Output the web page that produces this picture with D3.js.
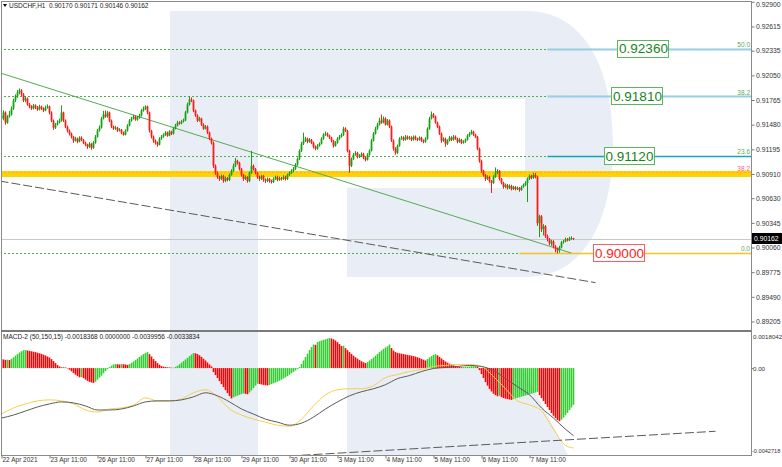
<!DOCTYPE html>
<html><head><meta charset="utf-8">
<script src="https://cdn.jsdelivr.net/npm/d3@7"></script>
<style>
body{margin:0;background:#fff}
svg{display:block}
text{font-family:"Liberation Sans",Arial,sans-serif}
</style></head>
<body><svg id="c" width="782" height="467"></svg>
<script>
// ---------------- DATA ----------------
const symbolTitle = "USDCHF,H1  0.90170 0.90171 0.90146 0.90162";
const macdTitle = "MACD-2 (50,150,15) -0.0018368 0.0000000 -0.0039956 -0.0033834";

const closes = [
0.91551,0.91621,0.91504,0.91574,0.91597,0.91667,0.91760,0.91807,0.91853,0.91876,
0.91830,0.91760,0.91783,0.91713,0.91690,0.91667,0.91702,0.91679,0.91655,0.91690,
0.91667,0.91644,0.91679,0.91690,0.91621,0.91527,0.91446,0.91481,0.91504,0.91527,
0.91621,0.91527,0.91458,0.91411,0.91376,0.91341,0.91295,0.91318,0.91283,0.91330,
0.91306,0.91271,0.91248,0.91225,0.91260,0.91213,0.91271,0.91341,0.91411,0.91446,
0.91551,0.91597,0.91574,0.91621,0.91527,0.91458,0.91434,0.91446,0.91411,0.91423,
0.91388,0.91364,0.91411,0.91469,0.91527,0.91551,0.91574,0.91539,0.91562,0.91586,
0.91644,0.91667,0.91690,0.91621,0.91411,0.91341,0.91295,0.91271,0.91248,0.91318,
0.91341,0.91364,0.91388,0.91353,0.91399,0.91376,0.91434,0.91469,0.91504,0.91493,
0.91516,0.91527,0.91621,0.91713,0.91772,0.91760,0.91644,0.91586,0.91527,0.91551,
0.91481,0.91434,0.91458,0.91388,0.91318,0.91271,0.91004,0.90923,0.90876,0.90853,
0.90888,0.90829,0.90864,0.90841,0.90899,0.90946,0.91004,0.91062,0.91039,0.90969,
0.90899,0.90853,0.90876,0.90829,0.90923,0.91004,0.90969,0.90923,0.90876,0.90853,
0.90888,0.90841,0.90829,0.90853,0.90829,0.90818,0.90853,0.90876,0.90841,0.90864,
0.90853,0.90876,0.90853,0.90899,0.90923,0.90946,0.90969,0.91016,0.91085,0.91178,
0.91260,0.91295,0.91318,0.91283,0.91306,0.91271,0.91225,0.91202,0.91236,0.91260,
0.91318,0.91364,0.91376,0.91353,0.91330,0.91295,0.91236,0.91271,0.91318,0.91341,
0.91364,0.91434,0.91411,0.91178,0.91004,0.91085,0.91132,0.91155,0.91109,0.91120,
0.91143,0.91097,0.91074,0.91132,0.91178,0.91295,0.91376,0.91434,0.91481,0.91527,
0.91504,0.91551,0.91481,0.91527,0.91458,0.91295,0.91202,0.91155,0.91236,0.91318,
0.91330,0.91306,0.91341,0.91318,0.91330,0.91306,0.91341,0.91318,0.91306,0.91330,
0.91295,0.91283,0.91318,0.91434,0.91551,0.91597,0.91574,0.91504,0.91458,0.91376,
0.91295,0.91318,0.91260,0.91295,0.91330,0.91306,0.91341,0.91318,0.91283,0.91306,
0.91271,0.91283,0.91306,0.91353,0.91376,0.91399,0.91364,0.91341,0.91202,0.91062,
0.90946,0.90899,0.90853,0.90876,0.90829,0.90806,0.90876,0.90923,0.90946,0.90853,
0.90806,0.90760,0.90783,0.90748,0.90771,0.90736,0.90760,0.90736,0.90748,0.90725,
0.90760,0.90783,0.90806,0.90853,0.90888,0.90864,0.90899,0.90876,0.90341,0.90422,
0.90271,0.90306,0.90190,0.90155,0.90108,0.90131,0.90073,0.90050,0.90027,0.90062,
0.90120,0.90131,0.90155,0.90143,0.90166,0.90170,0.90162];

const opens = [0.91580,
0.91551,0.91621,0.91504,0.91574,0.91597,0.91667,0.91760,0.91807,0.91853,0.91876,
0.91830,0.91760,0.91783,0.91713,0.91690,0.91667,0.91702,0.91679,0.91655,0.91690,
0.91667,0.91644,0.91679,0.91690,0.91621,0.91527,0.91446,0.91481,0.91504,0.91527,
0.91621,0.91527,0.91458,0.91411,0.91376,0.91341,0.91295,0.91318,0.91283,0.91330,
0.91306,0.91271,0.91248,0.91225,0.91260,0.91213,0.91271,0.91341,0.91411,0.91446,
0.91551,0.91597,0.91574,0.91621,0.91527,0.91458,0.91434,0.91446,0.91411,0.91423,
0.91388,0.91364,0.91411,0.91469,0.91527,0.91551,0.91574,0.91539,0.91562,0.91586,
0.91644,0.91667,0.91690,0.91621,0.91411,0.91341,0.91295,0.91271,0.91248,0.91318,
0.91341,0.91364,0.91388,0.91353,0.91399,0.91376,0.91434,0.91469,0.91504,0.91493,
0.91516,0.91527,0.91621,0.91713,0.91772,0.91760,0.91644,0.91586,0.91527,0.91551,
0.91481,0.91434,0.91458,0.91388,0.91318,0.91271,0.91004,0.90923,0.90876,0.90853,
0.90888,0.90829,0.90864,0.90841,0.90899,0.90946,0.91004,0.91062,0.91039,0.90969,
0.90899,0.90853,0.90876,0.90829,0.90923,0.91004,0.90969,0.90923,0.90876,0.90853,
0.90888,0.90841,0.90829,0.90853,0.90829,0.90818,0.90853,0.90876,0.90841,0.90864,
0.90853,0.90876,0.90853,0.90899,0.90923,0.90946,0.90969,0.91016,0.91085,0.91178,
0.91260,0.91295,0.91318,0.91283,0.91306,0.91271,0.91225,0.91202,0.91236,0.91260,
0.91318,0.91364,0.91376,0.91353,0.91330,0.91295,0.91236,0.91271,0.91318,0.91341,
0.91364,0.91434,0.91411,0.91178,0.91004,0.91085,0.91132,0.91155,0.91109,0.91120,
0.91143,0.91097,0.91074,0.91132,0.91178,0.91295,0.91376,0.91434,0.91481,0.91527,
0.91504,0.91551,0.91481,0.91527,0.91458,0.91295,0.91202,0.91155,0.91236,0.91318,
0.91330,0.91306,0.91341,0.91318,0.91330,0.91306,0.91341,0.91318,0.91306,0.91330,
0.91295,0.91283,0.91318,0.91434,0.91551,0.91597,0.91574,0.91504,0.91458,0.91376,
0.91295,0.91318,0.91260,0.91295,0.91330,0.91306,0.91341,0.91318,0.91283,0.91306,
0.91271,0.91283,0.91306,0.91353,0.91376,0.91399,0.91364,0.91341,0.91202,0.91062,
0.90946,0.90899,0.90853,0.90876,0.90829,0.90806,0.90876,0.90923,0.90946,0.90853,
0.90806,0.90760,0.90783,0.90748,0.90771,0.90736,0.90760,0.90736,0.90748,0.90725,
0.90760,0.90783,0.90806,0.90853,0.90888,0.90864,0.90899,0.90876,0.90341,0.90422,
0.90271,0.90306,0.90190,0.90155,0.90108,0.90131,0.90073,0.90050,0.90027,0.90062,
0.90120,0.90131,0.90155,0.90143,0.90166,0.90170];

const highs = [
0.91610,0.91645,0.91635,0.91590,0.91640,0.91690,0.91780,0.91830,0.91880,0.91899,
0.91890,0.91845,0.91805,0.91795,0.91730,0.91705,0.91720,0.91715,0.91695,0.91710,
0.91700,0.91680,0.91700,0.91715,0.91700,0.91635,0.91540,0.91500,0.91530,0.91550,
0.91702,0.91630,0.91540,0.91470,0.91425,0.91390,0.91350,0.91340,0.91330,0.91345,
0.91345,0.91315,0.91285,0.91260,0.91280,0.91270,0.91290,0.91360,0.91430,0.91470,
0.91570,0.91640,0.91644,0.91640,0.91630,0.91540,0.91470,0.91465,0.91455,0.91440,
0.91430,0.91400,0.91425,0.91485,0.91545,0.91570,0.91595,0.91585,0.91580,0.91605,
0.91660,0.91690,0.91702,0.91700,0.91630,0.91420,0.91355,0.91310,0.91285,0.91335,
0.91360,0.91380,0.91405,0.91400,0.91415,0.91410,0.91450,0.91490,0.91525,0.91520,
0.91535,0.91550,0.91640,0.91735,0.91807,0.91795,0.91770,0.91655,0.91600,0.91570,
0.91560,0.91495,0.91475,0.91470,0.91400,0.91330,0.91285,0.91020,0.90940,0.90890,
0.90905,0.90900,0.90880,0.90875,0.90915,0.90965,0.91030,0.91097,0.91075,0.91050,
0.90980,0.90910,0.90895,0.90885,0.90940,0.91178,0.91020,0.90980,0.90935,0.90890,
0.90900,0.90900,0.90860,0.90870,0.90865,0.90845,0.90870,0.90890,0.90890,0.90880,
0.90875,0.90895,0.90890,0.90915,0.90940,0.90965,0.90990,0.91035,0.91100,0.91195,
0.91280,0.91388,0.91340,0.91330,0.91325,0.91315,0.91285,0.91240,0.91255,0.91275,
0.91335,0.91380,0.91400,0.91390,0.91365,0.91340,0.91305,0.91290,0.91335,0.91360,
0.91380,0.91455,0.91450,0.91420,0.91190,0.91100,0.91150,0.91175,0.91165,0.91140,
0.91160,0.91155,0.91110,0.91150,0.91195,0.91315,0.91395,0.91455,0.91500,0.91560,
0.91597,0.91575,0.91565,0.91545,0.91540,0.91470,0.91310,0.91220,0.91250,0.91335,
0.91350,0.91345,0.91360,0.91355,0.91350,0.91345,0.91355,0.91355,0.91330,0.91345,
0.91340,0.91310,0.91335,0.91450,0.91570,0.91632,0.91615,0.91585,0.91515,0.91470,
0.91390,0.91335,0.91330,0.91310,0.91350,0.91345,0.91360,0.91355,0.91330,0.91325,
0.91315,0.91300,0.91320,0.91370,0.91395,0.91420,0.91410,0.91375,0.91350,0.91215,
0.91075,0.90960,0.90910,0.90895,0.90890,0.90840,0.90895,0.90985,0.90965,0.90955,
0.90865,0.90820,0.90800,0.90795,0.90790,0.90785,0.90775,0.90770,0.90765,0.90760,
0.90775,0.90800,0.90825,0.90870,0.90905,0.90900,0.90923,0.90923,0.90890,0.90440,
0.90435,0.90330,0.90320,0.90210,0.90170,0.90150,0.90145,0.90090,0.90060,0.90080,
0.90135,0.90150,0.90175,0.90170,0.90185,0.90190,0.90171];

const lows = [
0.91520,0.91530,0.91480,0.91490,0.91560,0.91585,0.91650,0.91740,0.91790,0.91830,
0.91810,0.91740,0.91740,0.91700,0.91670,0.91650,0.91655,0.91660,0.91640,0.91645,
0.91650,0.91625,0.91635,0.91665,0.91600,0.91510,0.91420,0.91430,0.91470,0.91495,
0.91515,0.91510,0.91440,0.91390,0.91355,0.91320,0.91270,0.91285,0.91265,0.91275,
0.91290,0.91255,0.91230,0.91200,0.91210,0.91190,0.91200,0.91260,0.91330,0.91400,
0.91435,0.91540,0.91560,0.91560,0.91510,0.91440,0.91420,0.91420,0.91395,0.91400,
0.91370,0.91353,0.91355,0.91400,0.91460,0.91515,0.91540,0.91525,0.91525,0.91550,
0.91575,0.91630,0.91650,0.91600,0.91390,0.91320,0.91270,0.91250,0.91225,0.91240,
0.91305,0.91330,0.91350,0.91340,0.91345,0.91360,0.91365,0.91425,0.91460,0.91480,
0.91485,0.91505,0.91520,0.91610,0.91700,0.91740,0.91625,0.91570,0.91510,0.91515,
0.91465,0.91420,0.91425,0.91370,0.91300,0.91250,0.90980,0.90900,0.90855,0.90830,
0.90840,0.90810,0.90815,0.90825,0.90830,0.90890,0.90935,0.90990,0.91020,0.90950,
0.90880,0.90830,0.90840,0.90810,0.90815,0.90910,0.90950,0.90905,0.90855,0.90830,
0.90840,0.90820,0.90805,0.90815,0.90810,0.90800,0.90805,0.90840,0.90825,0.90830,
0.90835,0.90840,0.90835,0.90840,0.90885,0.90910,0.90930,0.90955,0.91005,0.91070,
0.91165,0.91245,0.91280,0.91265,0.91270,0.91255,0.91205,0.91185,0.91190,0.91225,
0.91250,0.91305,0.91350,0.91340,0.91315,0.91275,0.91215,0.91225,0.91260,0.91305,
0.91330,0.91350,0.91395,0.91160,0.90923,0.90990,0.91070,0.91120,0.91090,0.91095,
0.91105,0.91080,0.91055,0.91065,0.91120,0.91170,0.91285,0.91365,0.91420,0.91470,
0.91490,0.91495,0.91470,0.91470,0.91440,0.91280,0.91180,0.91132,0.91140,0.91225,
0.91305,0.91290,0.91295,0.91305,0.91305,0.91290,0.91295,0.91300,0.91290,0.91295,
0.91280,0.91265,0.91270,0.91305,0.91420,0.91540,0.91555,0.91490,0.91440,0.91360,
0.91270,0.91280,0.91225,0.91245,0.91285,0.91290,0.91295,0.91305,0.91265,0.91270,
0.91255,0.91260,0.91270,0.91295,0.91340,0.91365,0.91350,0.91325,0.91185,0.91040,
0.90925,0.90880,0.90830,0.90840,0.90810,0.90690,0.90795,0.90865,0.90910,0.90835,
0.90790,0.90740,0.90745,0.90730,0.90735,0.90720,0.90725,0.90720,0.90725,0.90705,
0.90715,0.90750,0.90770,0.90585,0.90840,0.90850,0.90855,0.90860,0.90310,0.90180,
0.90240,0.90200,0.90170,0.90130,0.90085,0.90080,0.90050,0.90005,0.89992,0.90000,
0.90050,0.90105,0.90120,0.90130,0.90135,0.90150,0.90146];

// MACD-2 histogram, one value per bar
const histogram = [
0.00045,0.00043,0.00041,0.00042,0.00040,
0.00046,0.00054,0.00062,0.00070,0.00078,0.00084,0.00089,
0.00090,
0.00088,0.00086,0.00084,0.00082,0.00080,0.00077,0.00074,0.00071,0.00067,0.00063,0.00058,0.00053,
0.00045,0.00035,0.00025,0.00015,0.00008,0.00004,
0.00006,0.00003,-0.00002,
-0.00008,-0.00016,-0.00025,-0.00033,-0.00040,-0.00046,-0.00045,-0.00050,-0.00058,-0.00064,-0.00069,-0.00072,-0.00074,
-0.00068,-0.00058,-0.00048,-0.00038,-0.00026,-0.00015,-0.00005,
0.00005,0.00012,0.00018,0.00020,0.00019,0.00018,0.00020,0.00019,0.00018,0.00016,
0.00020,0.00026,0.00033,0.00040,0.00048,0.00056,0.00063,0.00070,0.00076,0.00080,
0.00070,0.00058,0.00045,0.00035,0.00025,0.00017,0.00010,
0.00007,0.00005,0.00004,0.00003,0.00002,0.00001,
0.00006,0.00012,0.00019,0.00027,0.00035,0.00043,0.00051,0.00060,0.00068,0.00075,
0.00074,0.00070,0.00064,0.00056,0.00047,0.00038,0.00028,0.00018,0.00008,
-0.00020,-0.00035,-0.00050,-0.00065,-0.00080,-0.00095,-0.00110,-0.00125,-0.00140,-0.00152,
-0.00146,-0.00142,-0.00138,-0.00134,-0.00130,-0.00126,
-0.00129,-0.00131,
-0.00122,-0.00112,-0.00100,-0.00088,-0.00078,
-0.00080,-0.00082,-0.00084,-0.00086,-0.00087,
-0.00084,-0.00080,-0.00076,-0.00072,-0.00068,-0.00063,-0.00058,-0.00052,-0.00046,-0.00040,-0.00033,-0.00026,-0.00019,-0.00012,-0.00005,
0.00005,0.00020,0.00038,0.00055,0.00072,0.00090,0.00105,0.00118,
0.00116,0.00130,0.00134,0.00138,0.00141,0.00144,0.00147,0.00150,
0.00148,0.00144,0.00138,0.00130,0.00120,0.00110,0.00112,0.00100,
0.00090,0.00080,0.00071,0.00062,0.00054,0.00047,0.00040,0.00034,0.00029,0.00025,
0.00030,0.00037,0.00045,0.00053,0.00062,0.00071,0.00080,0.00088,0.00096,0.00103,0.00109,0.00118,
0.00100,0.00088,0.00080,0.00076,0.00074,0.00072,0.00070,0.00068,0.00066,0.00064,0.00062,0.00060,0.00057,0.00054,0.00050,0.00046,0.00042,0.00038,
0.00045,0.00053,0.00060,0.00066,0.00070,
0.00064,0.00056,0.00048,0.00040,0.00033,0.00027,0.00022,0.00018,0.00014,0.00011,0.00008,0.00006,0.00004,
0.00005,0.00006,0.00007,0.00008,0.00009,0.00009,0.00010,0.00008,
-0.00010,-0.00030,-0.00050,-0.00070,-0.00088,-0.00104,-0.00117,-0.00128,
-0.00135,-0.00141,-0.00138,-0.00145,-0.00150,-0.00153,-0.00155,-0.00157,-0.00159,
-0.00155,-0.00152,-0.00149,-0.00146,-0.00143,-0.00140,-0.00137,-0.00134,-0.00131,-0.00128,-0.00125,-0.00122,-0.00119,
-0.00135,-0.00150,-0.00165,-0.00180,-0.00195,-0.00210,-0.00225,-0.00238,-0.00250,-0.00260,-0.00266,
-0.00258,-0.00248,-0.00236,-0.00224,-0.00210,-0.00197,-0.0018368];

// MACD / signal lines, sampled at these bars
const lineBars = [0,6,12,18,24,30,36,42,48,54,60,66,72,78,84,90,96,102,108,114,120,126,132,138,144,150,156,162,168,174,180,186,192,198,204,210,216,222,228,234,240,246,252,258,264,270,276,282,286];
const macdLine = [-0.002501,-0.002349,-0.002147,-0.001944,-0.001792,-0.001691,-0.001742,-0.001894,-0.002096,-0.002096,-0.002046,-0.001894,-0.001691,-0.001641,-0.001641,-0.001590,-0.001438,-0.001235,-0.001387,-0.001691,-0.002046,-0.002299,-0.002552,-0.002704,-0.002856,-0.002754,-0.002451,-0.002046,-0.001691,-0.001387,-0.001184,-0.001033,-0.000830,-0.000527,-0.000375,-0.000172,-0.000020,0.000030,0.000081,0.000132,0.000081,-0.000122,-0.000527,-0.000932,-0.001337,-0.001995,-0.002501,-0.003058,-0.0033834];
const signalLine = [-0.002299,-0.001995,-0.001792,-0.001641,-0.001590,-0.001641,-0.001792,-0.002096,-0.002197,-0.002046,-0.001995,-0.001843,-0.001489,-0.001641,-0.001641,-0.001539,-0.001235,-0.001084,-0.001438,-0.002046,-0.002349,-0.002552,-0.002704,-0.002856,-0.002906,-0.002552,-0.001894,-0.001337,-0.001084,-0.001033,-0.001033,-0.000881,-0.000476,-0.000324,-0.000172,-0.000071,0.000081,0.000132,0.000182,0.000182,0.000081,-0.000425,-0.001033,-0.001641,-0.001843,-0.002147,-0.003058,-0.003868,-0.0039956];

// axes
const priceTicks = [0.92900,0.92615,0.92335,0.92050,0.91765,0.91480,0.91195,0.90910,0.90630,0.90345,0.90060,0.89775,0.89490,0.89205];
const macdTicks = [0.0018042,0,-0.0042718];
const macdTickLabels = ["0.0018042","0.00","-0.0042718"];
const timeTickBars = [0,24,48,72,96,120,144,168,192,216,240,264];
const timeTickLabels = ["22 Apr 2021","23 Apr 11:00","26 Apr 11:00","27 Apr 11:00","28 Apr 11:00","29 Apr 11:00","30 Apr 11:00","3 May 11:00","4 May 11:00","5 May 11:00","6 May 11:00","7 May 11:00"];

// levels / annotations
const fibPrices = [0.92360,0.91810,0.91120,0.90000];
const fibRatios = ["50.0","38.2","23.6","0.0"];
const fibLabelBars = [321,318,314,309];
const fibSegStartBars = [273,273,273,259];
const resistancePrice = 0.90910;
const resistanceRatio = "38.2";
const lastPrice = 0.90162;
const trendGreen = {bars:[-1,285], prices:[0.92080,0.89995]};
const trendDash = {bars:[-1,297], prices:[0.90829,0.89654]};
const macdTrend = {bars:[150,357], values:[-0.00436,-0.00316]};

// ---------------- DRAW ----------------
const svg = d3.select('#c');
const RIGHT = 751.5;
const x = d3.scaleLinear().domain([0,286]).range([1.5,573.5]);
const y = d3.scaleLinear().domain([0.89205,0.92900]).range([321.5,1.8]);
const ym = d3.scaleLinear().domain([-0.0042718,0.0018042]).range([453.5,332]);
const FONT = '"Liberation Sans",Arial,sans-serif';
const bull = '#16a016', bear = '#ff1a1a';
const hGreen = '#33cc33', hRed = '#ff0000';

svg.append('rect').attr('width',782).attr('height',467).attr('fill','#fff');

const defs = svg.append('defs');
defs.append('clipPath').attr('id','cm').append('rect').attr('x',2).attr('y',2).attr('width',749).attr('height',328.5);
defs.append('clipPath').attr('id','cs').append('rect').attr('x',2).attr('y',332).attr('width',749).attr('height',123);

// watermark
const wm = svg.append('g').attr('fill','#e9edf5');
wm.append('rect').attr('x',170).attr('y',11).attr('width',88).attr('height',444);
wm.append('path').attr('d','M258,11 H527 C585,11 613,70 613,144 C613,218 585,277 527,277 H347 V188 H525 V99 H258 Z');
wm.append('path').attr('d','M347,368 H523 L568,455 H347 Z');

// ---- main panel ----
const main = svg.append('g').attr('clip-path','url(#cm)');

// resistance band
main.append('line').attr('x1',0).attr('x2',RIGHT).attr('y1',y(resistancePrice)).attr('y2',y(resistancePrice))
  .attr('stroke','#ffd200').attr('stroke-width',6);
main.append('line').attr('x1',0).attr('x2',RIGHT).attr('y1',y(resistancePrice)-1.5).attr('y2',y(resistancePrice)-1.5)
  .attr('stroke','#ff9a60').attr('stroke-width',0.8).attr('stroke-dasharray','2,2');

// dotted fib levels
main.selectAll('line.fib').data(fibPrices).join('line').attr('class','fib')
  .attr('x1',0).attr('x2',RIGHT).attr('y1',d=>Math.round(y(d))+0.5).attr('y2',d=>Math.round(y(d))+0.5)
  .attr('stroke','#4caf50').attr('stroke-width',1).attr('stroke-dasharray','2,2');

// coloured level segments
const segColors = ['#8ccff5','#8ccff5','#10a8b8','#f2c61c'];
const segWidths = [2,2,1.5,1.5];
main.selectAll('line.seg').data(fibPrices).join('line').attr('class','seg')
  .attr('x1',(d,i)=>x(fibSegStartBars[i])).attr('x2',RIGHT)
  .attr('y1',d=>Math.round(y(d))+0.5).attr('y2',d=>Math.round(y(d))+0.5)
  .attr('stroke',(d,i)=>segColors[i]).attr('stroke-width',(d,i)=>segWidths[i]);
main.selectAll('line.segdot').data(fibPrices.slice(0,2)).join('line').attr('class','segdot')
  .attr('x1',(d,i)=>x(fibSegStartBars[i])).attr('x2',RIGHT)
  .attr('y1',d=>Math.round(y(d))).attr('y2',d=>Math.round(y(d)))
  .attr('stroke','#f2d060').attr('stroke-width',0.8).attr('stroke-dasharray','1,2');

// bid line
main.append('line').attr('x1',0).attr('x2',RIGHT).attr('y1',Math.round(y(lastPrice))+0.5).attr('y2',Math.round(y(lastPrice))+0.5)
  .attr('stroke','#c8c8c8').attr('stroke-width',1);

// trendlines
main.append('line')
  .attr('x1',x(trendDash.bars[0])).attr('y1',y(trendDash.prices[0]))
  .attr('x2',x(trendDash.bars[1])).attr('y2',y(trendDash.prices[1]))
  .attr('stroke','#5a5a5a').attr('stroke-width',1).attr('stroke-dasharray','9,3');
main.append('line')
  .attr('x1',x(trendGreen.bars[0])).attr('y1',y(trendGreen.prices[0]))
  .attr('x2',x(trendGreen.bars[1])).attr('y2',y(trendGreen.prices[1]))
  .attr('stroke','#55aa55').attr('stroke-width',1);

// candles
const idx = d3.range(closes.length);
const cg = main.append('g');
cg.selectAll('line').data(idx).join('line')
  .attr('x1',i=>x(i)).attr('x2',i=>x(i))
  .attr('y1',i=>y(highs[i])).attr('y2',i=>y(lows[i]))
  .attr('stroke',i=>closes[i]>=opens[i]?bull:bear).attr('stroke-width',1);
cg.selectAll('rect').data(idx).join('rect')
  .attr('x',i=>x(i)-0.9).attr('width',1.8)
  .attr('y',i=>y(Math.max(opens[i],closes[i])))
  .attr('height',i=>Math.max(1,Math.abs(y(opens[i])-y(closes[i]))))
  .attr('fill',i=>closes[i]>=opens[i]?bull:bear);

// fib ratio small labels
const ratioG = svg.append('g').style('font-family',FONT).style('font-size','6.5px');
ratioG.selectAll('text').data(fibPrices).join('text')
  .attr('x',750).attr('y',d=>y(d)-1.5).attr('text-anchor','end').attr('fill','#5aaa5a')
  .text((d,i)=>fibRatios[i]);
ratioG.append('text').attr('x',750).attr('y',y(resistancePrice)-2.5).attr('text-anchor','end')
  .attr('fill','#ff5a78').text(resistanceRatio);

// boxed price labels
const boxG = svg.append('g');
fibPrices.forEach((p,i)=>{
  const isZero = i===3;
  const g = boxG.append('g');
  const t = g.append('text').attr('x',x(fibLabelBars[i])).attr('y',y(p)).attr('dy','0.36em')
    .attr('text-anchor','middle').style('font-family',FONT).style('font-size','13.5px')
    .attr('fill',isZero?'#ff2020':'#17851a').text(d3.format('.5f')(p));
  const b = t.node().getBBox();
  g.insert('rect','text').attr('x',Math.round(b.x)-0.5-1).attr('y',Math.round(y(p))-8.5)
    .attr('width',Math.round(b.width)+2).attr('height',17)
    .attr('fill','#fff').attr('stroke',isZero?'#ff5c5c':'#5cb85c').attr('stroke-width',1);
});

// ---- MACD panel ----
const sub = svg.append('g').attr('clip-path','url(#cs)');
sub.selectAll('rect').data(idx).join('rect')
  .attr('x',i=>x(i)-0.8).attr('width',1.6)
  .attr('y',i=>Math.min(ym(histogram[i]),ym(0)))
  .attr('height',i=>Math.abs(ym(histogram[i])-ym(0)))
  .attr('fill',i=>(i>0 && histogram[i]>=histogram[i-1])?hGreen:hRed);
const ln = vals => d3.line().x((d,k)=>x(lineBars[k])).y(d=>ym(d)).curve(d3.curveMonotoneX)(vals);
sub.append('path').attr('d',ln(signalLine)).attr('fill','none').attr('stroke','#f2d14a').attr('stroke-width',1);
sub.append('path').attr('d',ln(macdLine)).attr('fill','none').attr('stroke','#5a5a5a').attr('stroke-width',1);
sub.append('line')
  .attr('x1',x(macdTrend.bars[0])).attr('y1',ym(macdTrend.values[0]))
  .attr('x2',x(macdTrend.bars[1])).attr('y2',ym(macdTrend.values[1]))
  .attr('stroke','#5a5a5a').attr('stroke-width',1).attr('stroke-dasharray','9,3');

// ---- frame ----
const fr = svg.append('g').attr('stroke','#8a8a8a').attr('fill','none');
fr.append('line').attr('x1',1.5).attr('x2',1.5).attr('y1',1).attr('y2',455.5);
fr.append('line').attr('x1',1).attr('x2',RIGHT).attr('y1',1.5).attr('y2',1.5);
fr.append('line').attr('x1',RIGHT).attr('x2',RIGHT).attr('y1',1).attr('y2',456);
fr.append('line').attr('x1',1).attr('x2',RIGHT).attr('y1',455.5).attr('y2',455.5);
fr.append('line').attr('x1',1).attr('x2',RIGHT).attr('y1',331).attr('y2',331).attr('stroke-width',2).attr('stroke','#7a7a7a');

// ---- axes ----
function styleAxis(g, size){
  g.select('.domain').remove();
  g.selectAll('.tick line').attr('stroke','#777');
  g.selectAll('text').style('font-family',FONT).style('font-size',size).attr('fill','#333');
}
const ay = svg.append('g').attr('transform',`translate(${RIGHT},0)`)
  .call(d3.axisRight(y).tickValues(priceTicks).tickFormat(d3.format('.5f')).tickSize(3).tickSizeOuter(0));
styleAxis(ay,'6.8px');
ay.selectAll('text').attr('x',4.5).attr('dy',(d,i)=> i===0 ? '0.75em' : '0.32em');

const am = svg.append('g').attr('transform',`translate(${RIGHT},0)`)
  .call(d3.axisRight(ym).tickValues(macdTicks).tickFormat((d,i)=>macdTickLabels[i]).tickSize(0).tickSizeOuter(0));
styleAxis(am,'6.2px');
am.selectAll('text').attr('x',1.5).attr('dy',(d,i)=> i===0 ? '1.0em' : (i===2 ? '-0.25em' : '0.32em'));
am.selectAll('text').filter((d,i)=>i===2).attr('x',0.5).style('font-size','5.6px');
am.selectAll('.tick').filter((d,i)=>i===1).append('line').attr('x2',2).attr('stroke','#777');

const ax = svg.append('g').attr('transform','translate(0,455.5)')
  .call(d3.axisBottom(x).tickValues(timeTickBars).tickFormat((d,i)=>timeTickLabels[i]).tickSize(3).tickSizeOuter(0));
styleAxis(ax,'6.5px');
ax.selectAll('text').attr('text-anchor','start').attr('x',0.5).attr('y',2.2);

// current price tag
const tagY = Math.round(y(lastPrice));
svg.append('rect').attr('x',752).attr('y',tagY-6).attr('width',30).attr('height',11).attr('fill','#000');
svg.append('text').attr('x',754).attr('y',tagY).attr('dy','0.34em').attr('fill','#fff')
  .style('font-family',FONT).style('font-size','6.8px').text(d3.format('.5f')(lastPrice));

// titles
svg.append('path').attr('d','M3,4 L7,4 L5,7 Z').attr('fill','#000');
svg.append('text').attr('x',9).attr('y',8.3).style('font-family',FONT).style('font-size','6.5px')
  .attr('fill','#222').style('white-space','pre').text(symbolTitle);
svg.append('text').attr('x',3).attr('y',339.2).style('font-family',FONT).style('font-size','6.5px')
  .attr('fill','#222').text(macdTitle);
</script>
</body></html>
